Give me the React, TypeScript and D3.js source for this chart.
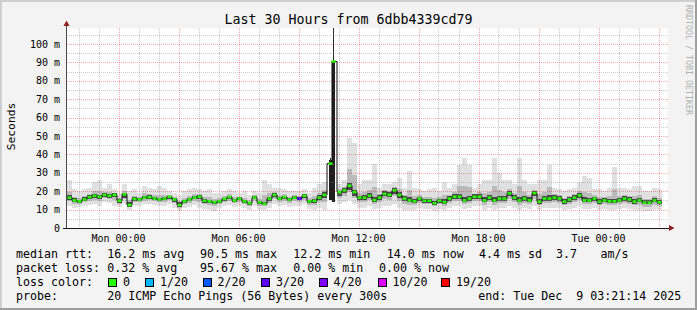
import React from 'react';
import * as d3 from 'd3';

const title = 'Last 30 Hours from 6dbb4339cd79';
const yLabel = 'Seconds';
const watermark = 'RRDTOOL / TOBI OETIKER';
const yTickValues = [0, 10, 20, 30, 40, 50, 60, 70, 80, 90, 100];
const yTickLabels = ['0', '10 m', '20 m', '30 m', '40 m', '50 m', '60 m', '70 m', '80 m', '90 m', '100 m'];
const xTickLabels = ['Mon 00:00', 'Mon 06:00', 'Mon 12:00', 'Mon 18:00', 'Tue 00:00'];

// 15-minute steps, ms
const median = [
  16.5, 15, 14.5, 15.5, 16.8, 17.5, 17, 18, 17.5, 18,
  14.8, 18.3, 12.5, 15.8, 15.5, 16.5, 16.8, 16, 15.5, 16,
  17, 15.5, 12.5, 14.5, 15.5, 16.5, 17, 14.8, 14.5, 14,
  14.5, 15.8, 16.8, 15, 16, 14.5, 13.5, 16.5, 14, 13.2,
  16, 18, 16, 16.8, 15.5, 16.5, 16, 17.5, 14.5, 14.8,
  16.5, 18, 35, 90.5, 19.5, 20.5, 23, 19.5, 16.5, 16.5,
  17.5, 15.2, 16.5, 18.5, 18, 20.5, 18, 16, 15, 14.5,
  16, 14.8, 14.8, 13.5, 14.8, 14, 16, 17, 17, 15,
  16, 17, 17, 15, 16.5, 15, 16, 16, 18.8, 16.5,
  15, 16, 15, 19, 14.3, 16, 16, 16.5, 16, 14.3,
  15.5, 16.5, 17.7, 15, 15, 16, 14.3, 15, 14.5, 14.5,
  15, 16, 15.5, 14.3, 15, 13.8, 13.8, 15, 14,
];
const smokeLo = [
  12, 11, 11.5, 12, 12.5, 13, 12, 14, 13.5, 12,
  11.5, 13, 10, 12, 12, 13, 13, 12.5, 12, 12,
  13, 11, 9, 11, 11.5, 12.5, 11, 10.5, 10, 9.5,
  11, 12, 12.5, 11.5, 12, 11, 10, 12, 10, 10,
  11, 13, 12, 12.5, 11.5, 12, 12, 13, 10.5, 10,
  11, 10, 13, 14, 13, 14, 15, 13, 11, 11,
  12, 10.5, 11, 12, 12, 13, 11, 10, 10, 10,
  11, 10.5, 10.5, 9.5, 10.5, 10, 11, 12, 12, 10.5,
  11, 12, 12, 10, 11, 10, 11, 11, 12, 11,
  10, 11, 10.5, 12, 10, 11, 11, 11, 11, 10,
  10.5, 11, 12, 10.5, 10.5, 11, 10, 10.5, 10, 10,
  10.5, 11, 10.5, 10, 10, 9, 9, 10, 10,
];
const smokeHi = [
  26, 21, 20, 21, 22, 25, 26, 22, 24, 21,
  19, 24, 20, 21, 19, 23, 22, 21, 23, 22,
  20, 19, 18, 20, 21, 22, 21, 20, 21, 19,
  19, 20, 21, 20, 19, 20, 18, 20, 19, 26,
  24, 22, 22, 21, 20, 20, 20, 21, 19, 22,
  24, 25, 38, 115, 24, 26, 49, 46, 24, 26,
  26, 35, 22, 24, 24, 25, 27, 22, 31, 22,
  21, 20, 21, 22, 20, 25, 22, 24, 34, 38,
  34, 22, 24, 26, 26, 38, 30, 26, 26, 24,
  38, 26, 24, 24, 26, 26, 34, 22, 21, 20,
  21, 22, 25, 28, 27, 21, 21, 20, 22, 33,
  22, 22, 21, 23, 23, 20, 20, 22, 21,
];
const coreLo = [
  14.5, 13.5, 13, 14, 15, 15.5, 15, 16, 15.5, 16,
  13, 15, 11, 14, 14, 15, 15, 14.5, 14, 14.5,
  15, 13.5, 11, 13, 14, 15, 15, 13, 13, 12.5,
  13, 14, 15, 13.5, 14.5, 13, 12, 15, 12.5, 12,
  14, 16, 14.5, 15, 14, 15, 14.5, 15.5, 13, 13,
  14, 15, 15, 14, 16, 18, 19, 16, 14.5, 14.5,
  15.5, 13, 14.5, 16, 15.5, 17, 15, 13.5, 13, 12.5,
  14, 13, 13, 12, 13, 12.5, 14, 15, 15, 13,
  14, 15, 15, 13, 14.5, 13, 14, 14, 16, 14.5,
  13, 14, 13, 16, 12.5, 14, 14, 14.5, 14, 12.5,
  13.5, 14.5, 15.5, 13, 13, 14, 12.5, 13, 12.5, 12.5,
  13, 14, 13.5, 12.5, 13, 12, 12, 13, 12.5,
];
const coreHi = [
  19, 17, 16, 18, 18.5, 19.5, 19, 19.5, 19, 19.5,
  17, 19.5, 15, 17.5, 17, 18, 18.5, 17.5, 17, 17.5,
  18, 17, 15, 16, 17, 18, 18.5, 16.5, 16, 15.5,
  16, 17, 18, 16.5, 17.5, 16, 15, 18, 15.5, 15,
  18, 19.5, 17.5, 18, 17, 18, 17.5, 19, 16, 17,
  19, 21, 37, 91, 21, 22.5, 26, 22, 18.5, 19,
  20, 18, 19, 21, 21, 23, 21, 19, 18, 17,
  18, 17, 17, 16, 17, 17, 18.5, 19.5, 20, 18,
  19, 19.5, 20, 18, 19.5, 18.5, 19, 19, 21, 19,
  18, 19, 18, 21.5, 17, 19, 20, 19, 18.5, 16.5,
  18, 19, 20, 18, 17.5, 18, 16.5, 17, 17, 17,
  17.5, 18.5, 18, 16.5, 17, 16, 16, 17.5, 16.5,
];
const lossSteps = [46];
const lossStepLevels = [3];

const lossLabels = ['0', '1/20', '2/20', '3/20', '4/20', '10/20', '19/20'];
const lossColors = ['#26ff00', '#00b8ff', '#0059ff', '#5e00ff', '#7e00ff', '#dd00ff', '#ff0000'];

const legendRtt = ['median rtt:', '16.2 ms avg', '90.5 ms max', '12.2 ms min', '14.0 ms now', '4.4 ms sd', '3.7', 'am/s'];
const legendLoss = ['packet loss:', '0.32 % avg', '95.67 % max', '0.00 % min', '0.00 % now'];
const legendLossTitle = 'loss color:';
const legendProbe = ['probe:', '20 ICMP Echo Pings (56 Bytes) every 300s', 'end: Tue Dec  9 03:21:14 2025'];

// layout
const W = 697;
const H = 310;
const MONO = '"DejaVu Sans Mono", monospace';
const rttX = [16, 107.3, 200, 293.3, 386.7, 479, 556, 600.5];
const lossX = [16, 107.3, 200, 293.3, 379];
const boxX = [108.5, 145.5, 203, 261.5, 319, 378, 441.5];
const probeX = [16, 107.3, 478.3];

const MON0 = Date.UTC(2025, 11, 8, 0, 0, 0);
const HOUR = 3600e3;
const startTime = MON0 - 2.575 * HOUR;
const endTime = startTime + 30 * HOUR;
const stepMs = 15 * 60e3;

export default function App() {
  const x = d3.scaleUtc().domain([new Date(startTime), new Date(endTime)]).range([67, 667]);
  const y = d3.scaleLinear().domain([0, 108.7]).range([228, 28]);
  const left = 67, right = 668, top = 28, bottom = 228;

  const hours = d3.utcHour.range(new Date(startTime), new Date(endTime + 1));
  const minorV = hours.filter((d) => d.getUTCHours() % 3 !== 0);
  const majorV = hours.filter((d) => d.getUTCHours() % 3 === 0);
  const labelV = hours.filter((d) => d.getUTCHours() % 6 === 0);
  const minorH = d3.range(5, 108, 10);
  const majorH = yTickValues.slice(1);

  const isBig = (i: number) => i >= 0 && i < median.length && coreHi[i] - coreLo[i] > 10;

  const steps = median.map((m, i) => {
    const t0 = startTime + i * stepMs;
    const x0 = x(new Date(t0));
    const x1 = x(new Date(t0 + stepMs));
    const li = lossSteps.indexOf(i);
    const color = li >= 0 ? lossColors[lossStepLevels[li]] : lossColors[0];
    const lo = smokeLo[i], hi = smokeHi[i];
    const big = isBig(i);
    const midLo = lo + (m - lo) * 0.55;
    const midHi = m + (hi - m) * 0.35;
    const cLo = big ? coreLo[i] : m - (m - coreLo[i]) * 0.55;
    const cHi = big ? coreHi[i] : m + (coreHi[i] - m) * 0.55;
    // narrow spike columns hug the boundary shared with the neighbouring spike step
    const colX = big ? (isBig(i + 1) ? Math.round(x1) - 3 : Math.round(x0)) : x0;
    return { i, x0, x1, m, lo, hi, midLo, midHi, cLo, cHi, color, big, colX };
  });

  const medPts: [number, number][] = [];
  steps.forEach((s) => {
    medPts.push([s.x0, y(s.m)]);
    medPts.push([s.x1, y(s.m)]);
  });
  const medLine = d3.line()(medPts) || '';

  const minorStroke = 'rgba(140,140,140,0.45)';
  const majorStroke = 'rgba(229,0,0,0.33)';

  return (
    <svg width={W} height={H} style={{ position: 'fixed', left: 0, top: 0 }} xmlns="http://www.w3.org/2000/svg">
      <defs>
        <clipPath id="plotclip">
          <rect x={left} y={top} width={right - left} height={bottom - top} />
        </clipPath>
      </defs>
      <rect x={0} y={0} width={W} height={H} fill="#f3f3f3" />
      <rect x={0} y={0} width={W} height={2} fill="#cfcfcf" />
      <rect x={0} y={0} width={2} height={H} fill="#cfcfcf" />
      <rect x={0} y={H - 2} width={W} height={2} fill="#9e9e9e" />
      <rect x={W - 2} y={0} width={2} height={H} fill="#9e9e9e" />
      <rect x={left} y={top} width={right - left} height={bottom - top} fill="#ffffff" />

      <g clipPath="url(#plotclip)" shapeRendering="crispEdges">
        {steps.filter((s) => !s.big).map((s) => (
          <rect key={'l' + s.i} x={s.x0} y={y(s.hi)} width={s.x1 - s.x0} height={y(s.lo) - y(s.hi)} fill="#e0e0e0" />
        ))}
        {steps.filter((s) => !s.big).map((s) => (
          <rect key={'m' + s.i} x={s.x0} y={y(s.midHi)} width={s.x1 - s.x0} height={y(s.midLo) - y(s.midHi)} fill="#bababa" />
        ))}
        {steps.filter((s) => !s.big).map((s) => (
          <rect key={'c' + s.i} x={s.x0} y={y(s.cHi)} width={s.x1 - s.x0} height={y(s.cLo) - y(s.cHi)} fill="#4a4a4a" />
        ))}
        {steps.filter((s) => s.big).map((s) => (
          <g key={'b' + s.i}>
            <rect x={s.colX} y={y(s.cHi)} width={3} height={y(s.cLo) - y(s.cHi)} fill="#1e1e1e" />
            <line x1={s.colX + 1.5} x2={s.colX + 1.5} y1={y(s.hi)} y2={y(s.cHi)} stroke="#2a2a2a" strokeWidth={1} />
          </g>
        ))}
      </g>

      <g shapeRendering="crispEdges">
        {minorV.map((d, k) => (
          <line key={'mv' + k} x1={Math.round(x(d)) + 0.5} x2={Math.round(x(d)) + 0.5} y1={top} y2={bottom} stroke={minorStroke} strokeDasharray="1,1" />
        ))}
        {minorH.map((v, k) => (
          <line key={'mh' + k} x1={left} x2={right} y1={Math.round(y(v)) + 0.5} y2={Math.round(y(v)) + 0.5} stroke={minorStroke} strokeDasharray="1,1" />
        ))}
        {majorV.map((d, k) => (
          <line key={'Mv' + k} x1={Math.round(x(d)) + 0.5} x2={Math.round(x(d)) + 0.5} y1={top} y2={bottom} stroke={majorStroke} strokeDasharray="1,1" />
        ))}
        {majorH.map((v, k) => (
          <line key={'Mh' + k} x1={left} x2={right} y1={Math.round(y(v)) + 0.5} y2={Math.round(y(v)) + 0.5} stroke={majorStroke} strokeDasharray="1,1" />
        ))}
      </g>

      <g clipPath="url(#plotclip)">
        <path d={medLine} fill="none" stroke="#111" strokeWidth={1} />
        {steps.map((s) => (
          <line
            key={'g' + s.i}
            x1={s.big ? s.colX - 0.5 : s.x0 + 0.5}
            x2={s.big ? s.colX + 3.5 : s.x1 - 0.5}
            y1={y(s.m)}
            y2={y(s.m)}
            stroke={s.color}
            strokeWidth={2.5}
          />
        ))}
      </g>

      {/* axes */}
      <line x1={66.5} x2={66.5} y1={bottom} y2={24} stroke="#4a4a4a" strokeWidth={1} />
      <line x1={63} x2={670} y1={bottom + 0.5} y2={bottom + 0.5} stroke="#1a1a1a" strokeWidth={1} />
      <path d="M63.5,26 L69.5,26 L66.5,20.5 Z" fill="#8b1f1f" />
      <path d="M669,225 L669,231 L674.5,228 Z" fill="#8b1f1f" />

      {/* y tick labels */}
      {yTickValues.map((v, k) => (
        <text key={'yt' + k} x={60} y={y(v) + 3.6} textAnchor="end" fontFamily={MONO} fontSize={10} fill="#000">
          {yTickLabels[k]}
        </text>
      ))}
      {/* x tick labels */}
      {labelV.map((d, k) => (
        <text key={'xt' + k} x={x(d)} y={242} textAnchor="middle" fontFamily={MONO} fontSize={10} fill="#000">
          {xTickLabels[k]}
        </text>
      ))}

      <text x={348.5} y={24} textAnchor="middle" fontFamily={MONO} fontSize={13.3} fill="#000">{title}</text>
      <text transform="translate(14.5,126.5) rotate(-90)" textAnchor="middle" fontFamily={MONO} fontSize={11.3} fill="#000">{yLabel}</text>
      <text transform="translate(685.5,5) rotate(90)" fontFamily={MONO} fontSize={8.3} fill="#b0b0b0">{watermark}</text>

      {/* legend */}
      <g fontFamily={MONO} fontSize={11.63} fill="#000">
        {legendRtt.map((t, k) => (
          <text key={'r' + k} x={rttX[k]} y={258.3} style={{ whiteSpace: 'pre' }}>{t}</text>
        ))}
        {legendLoss.map((t, k) => (
          <text key={'p' + k} x={lossX[k]} y={272.3} style={{ whiteSpace: 'pre' }}>{t}</text>
        ))}
        <text x={16} y={286.3}>{legendLossTitle}</text>
        {lossLabels.map((t, k) => (
          <g key={'lc' + k}>
            <rect x={boxX[k]} y={278.5} width={8} height={8} fill={lossColors[k]} stroke="#000" strokeWidth={1} shapeRendering="crispEdges" />
            <text x={boxX[k] + 14.5} y={286.3}>{t}</text>
          </g>
        ))}
        {legendProbe.map((t, k) => (
          <text key={'pr' + k} x={probeX[k]} y={300.2} style={{ whiteSpace: 'pre' }}>{t}</text>
        ))}
      </g>
    </svg>
  );
}
